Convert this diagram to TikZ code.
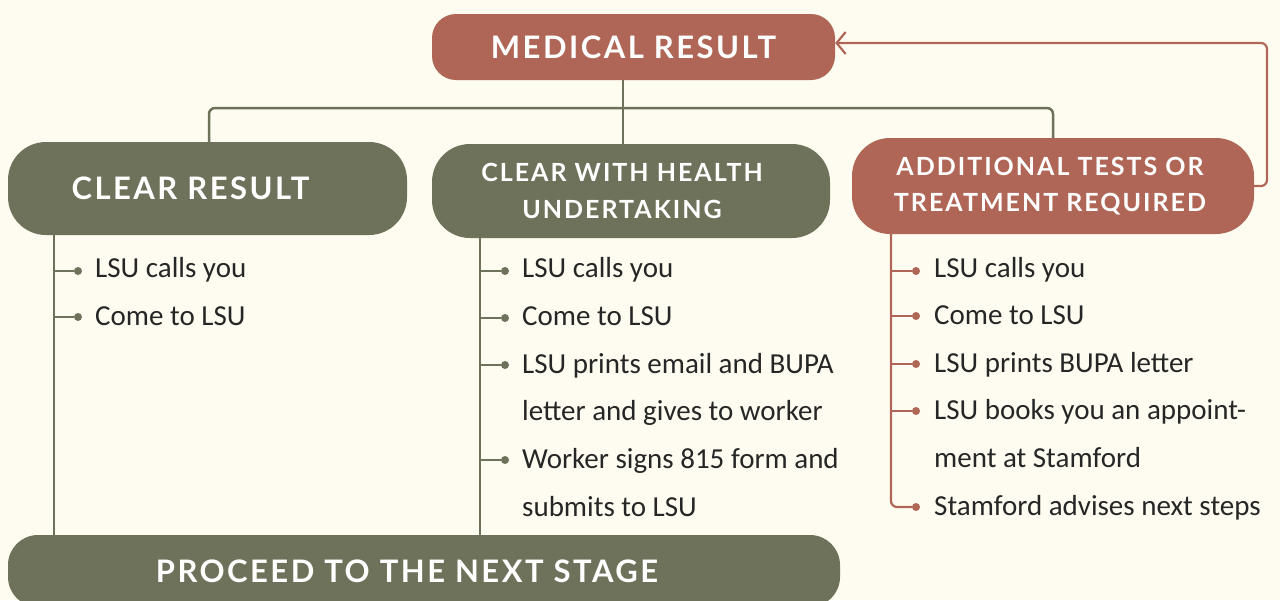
\documentclass[tikz,border=0pt]{standalone}
\usepackage{fontspec}
\setmainfont{Carlito}
\newfontfamily\headfont[LetterSpace=8]{Lato}
\usetikzlibrary{arrows.meta}
\definecolor{olive}{HTML}{6F725A}
\definecolor{rust}{HTML}{B06656}
\definecolor{cream}{HTML}{FEFCF0}
\definecolor{ink}{HTML}{262626}
\tikzstyle{head}=[align=center,
                  inner sep=0pt,
                  text=white,
                  font=\headfont\bfseries\fontsize{31}{37}\selectfont]
\tikzstyle{olivehead}=[head,fill=olive]
\tikzstyle{rusthead}=[head,fill=rust]
\tikzstyle{item}=[anchor=base west,
                  inner sep=0pt,
                  text=ink,
                  font=\fontsize{29}{32}\selectfont]
\tikzstyle{olivedot}=[circle,inner sep=0pt,minimum size=8pt,fill=olive]
\tikzstyle{rustdot}=[circle,inner sep=0pt,minimum size=8pt,fill=rust]
\tikzstyle{oline}=[draw=olive,line width=2.5pt]
\tikzstyle{rline}=[draw=rust,line width=2.2pt]

\begin{document}
\begin{tikzpicture}[x=1pt,y=-1pt]
\fill[cream] (0,0) rectangle (1280,600);
\useasboundingbox (0,0) rectangle (1280,600);
% headings
\node (med) [rusthead,minimum width=403pt,minimum height=66pt,rounded corners=24pt] at (633.5,47) {MEDICAL RESULT};
\node (clr) [olivehead,minimum width=399pt,minimum height=93pt,rounded corners=38pt] at (207.5,188.5) {CLEAR RESULT\hspace*{34pt}};
\node (cwh) [olivehead,minimum width=398pt,minimum height=94pt,rounded corners=38pt,font=\headfont\bfseries\fontsize{25}{37}\selectfont] at (631,191) {CLEAR WITH HEALTH\hspace*{18pt}\\UNDERTAKING\hspace*{18pt}};
\node (add) [rusthead,minimum width=402pt,minimum height=96pt,rounded corners=38pt,font=\headfont\bfseries\fontsize{25}{36}\selectfont] at (1053,186) {ADDITIONAL TESTS OR\hspace*{6pt}\\TREATMENT REQUIRED\hspace*{6pt}};
\node (nxt) [olivehead,minimum width=832pt,minimum height=72pt,rounded corners=30pt] at (424,571) {PROCEED TO THE NEXT STAGE\hspace*{34pt}};
% tree
\coordinate (hub) at (623,108);
\coordinate (lcol) at (54,0);
\coordinate (mcol) at (480,0);
\coordinate (rcol) at (891,0);
\coordinate (loop) at (1267,43);
\draw[oline] (med.south -| hub) -- (hub);
\draw[oline,rounded corners=6pt] (clr.north -| 209,0) |- (hub) -| (add.north);
\draw[oline] (hub) -- (cwh.north -| hub);
\draw[rline,rounded corners=6pt,-{Straight Barb[length=9pt,width=22pt]}] (add.east) -| (loop) -- (med.east |- loop);
% clear result
\draw[oline] (clr.south -| lcol) -- (nxt.north -| lcol);
\node (l1dot) [olivedot] at (78,271) {};
\node (l2dot) [olivedot] at (78,317) {};
\draw[oline] (l1dot -| lcol) -- (l1dot);
\draw[oline] (l2dot -| lcol) -- (l2dot);
\node (l1) [item] at (95,277) {LSU calls you};
\node (l2) [item] at (95,325) {Come to LSU};
% clear with health undertaking
\draw[oline] (cwh.south -| mcol) -- (nxt.north -| mcol);
\node (m1dot) [olivedot] at (505,271) {};
\node (m2dot) [olivedot] at (505,318) {};
\node (m3dot) [olivedot] at (505,365) {};
\node (m4dot) [olivedot] at (505,460) {};
\draw[oline] (m1dot -| mcol) -- (m1dot);
\draw[oline] (m2dot -| mcol) -- (m2dot);
\draw[oline] (m3dot -| mcol) -- (m3dot);
\draw[oline] (m4dot -| mcol) -- (m4dot);
\node (m1) [item] at (522,277) {LSU calls you};
\node (m2) [item] at (522,325) {Come to LSU};
\node (m3a) [item] at (522,373) {LSU prints email and BUPA};
\node (m3b) [item] at (522,420) {letter and gives to worker};
\node (m4a) [item] at (522,468) {Worker signs 815 form and};
\node (m4b) [item] at (522,516) {submits to LSU};
% additional tests
\node (r1dot) [rustdot] at (916,271) {};
\node (r2dot) [rustdot] at (916,316) {};
\node (r3dot) [rustdot] at (916,364) {};
\node (r4dot) [rustdot] at (916,411) {};
\node (r5dot) [rustdot] at (916,507) {};
\draw[rline,rounded corners=6pt] (add.south -| rcol) |- (r5dot);
\draw[rline] (r1dot -| rcol) -- (r1dot);
\draw[rline] (r2dot -| rcol) -- (r2dot);
\draw[rline] (r3dot -| rcol) -- (r3dot);
\draw[rline] (r4dot -| rcol) -- (r4dot);
\node (r1) [item] at (934,277) {LSU calls you};
\node (r2) [item] at (934,324) {Come to LSU};
\node (r3) [item] at (934,372) {LSU prints BUPA letter};
\node (r4a) [item] at (934,419) {LSU books you an appoint-};
\node (r4b) [item] at (934,467) {ment at Stamford};
\node (r5) [item] at (934,515) {Stamford advises next steps};
\end{tikzpicture}
\end{document}
